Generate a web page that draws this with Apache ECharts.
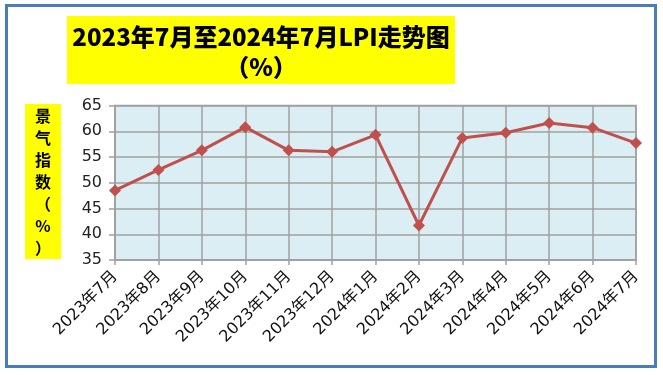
<!DOCTYPE html>
<html>
<head>
<meta charset="utf-8">
<script src="https://cdn.jsdelivr.net/npm/echarts@6/dist/echarts.min.js"></script>
<style>html,body{margin:0;padding:0;background:#fff}#c{width:663px;height:375px}</style>
</head>
<body>
<div id="c"></div>
<script>
const categories = ['2023年7月','2023年8月','2023年9月','2023年10月','2023年11月','2023年12月','2024年1月','2024年2月','2024年3月','2024年4月','2024年5月','2024年6月','2024年7月'];
const lpiValues = [48.5, 52.5, 56.3, 60.8, 56.3, 56.0, 59.3, 41.7, 58.7, 59.7, 61.6, 60.7, 57.7];
const titleText = '2023年7月至2024年7月LPI走势图\n（%）';
const yAxisName = '景\n气\n指\n数\n（\n%\n）';
const yMin = 35, yMax = 65, yInterval = 5;

const chart = echarts.init(document.getElementById('c'));
const gridColor = '#a0a0a0';
chart.setOption({
  animation: false,
  backgroundColor: '#ffffff',
  grid: {left: 115, right: 27, top: 105.5, bottom: 115, show: true, backgroundColor: '#dbeef4', borderColor: gridColor, borderWidth: 1.5},
  xAxis: {
    type: 'category', data: categories, boundaryGap: false,
    axisLine: {lineStyle: {color: gridColor, width: 1.5}},
    axisTick: {show: true, length: 5, alignWithLabel: true, lineStyle: {color: gridColor, width: 1.5}},
    splitLine: {show: true, lineStyle: {color: gridColor, width: 1.5}},
    axisLabel: {rotate: 45, fontSize: 16, color: '#111', margin: 14, interval: 0, fontFamily: 'DejaVu Sans, Noto Sans CJK SC'}
  },
  yAxis: {
    type: 'value', min: yMin, max: yMax, interval: yInterval,
    axisLine: {show: true, lineStyle: {color: gridColor, width: 1.5}},
    axisTick: {show: true, length: 6, lineStyle: {color: gridColor, width: 1.5}},
    splitLine: {show: true, lineStyle: {color: gridColor, width: 1.5}},
    axisLabel: {fontSize: 16, color: '#222', margin: 13, fontFamily: 'DejaVu Sans'}
  },
  series: [{
    type: 'line', data: lpiValues,
    symbol: 'diamond', symbolSize: 12,
    lineStyle: {color: '#c0504d', width: 3},
    itemStyle: {color: '#c0504d'}
  }],
  graphic: [
    {type: 'rect', shape: {x: 6.5, y: 5.5, width: 649, height: 361}, style: {fill: 'none', stroke: '#4a7ebb', lineWidth: 3}, z: 100},
    {type: 'rect', shape: {x: 67, y: 16, width: 388, height: 68}, style: {fill: '#ffff00'}, z: 10},
    {type: 'text', x: 261, y: 52, style: {text: titleText, textAlign: 'center', textVerticalAlign: 'middle', font: '900 24px "Noto Sans CJK SC", sans-serif', lineHeight: 30, fill: '#000'}, z: 11},
    {type: 'rect', shape: {x: 25, y: 104, width: 36, height: 155}, style: {fill: '#ffff00'}, z: 10},
    {type: 'text', x: 43, y: 182, style: {text: yAxisName, textAlign: 'center', textVerticalAlign: 'middle', font: 'bold 16px "Noto Sans CJK SC", sans-serif', lineHeight: 22, fill: '#000'}, z: 11}
  ]
});
</script>
</body>
</html>
